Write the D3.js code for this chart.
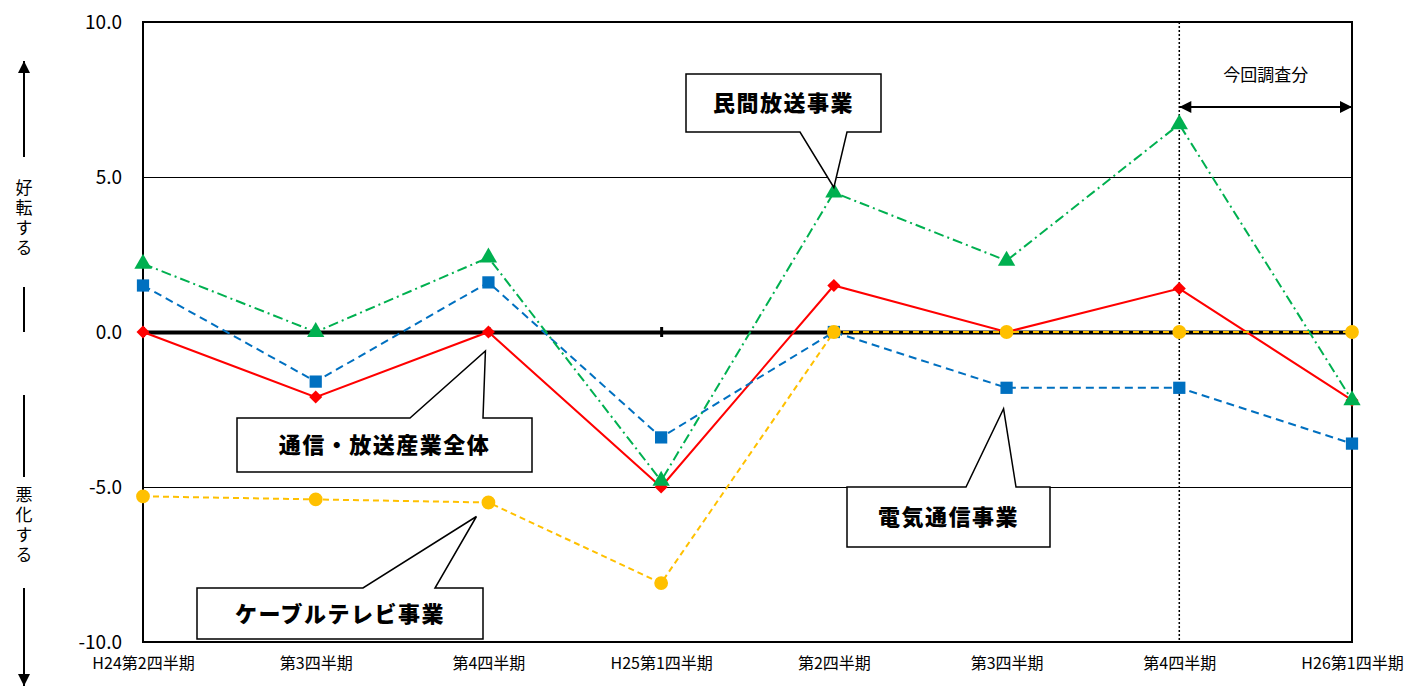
<!DOCTYPE html>
<html>
<head>
<meta charset="utf-8">
<script src="https://cdn.jsdelivr.net/npm/d3@7"></script>
<style>
  body { margin: 0; background: #fff; }
  svg { display: block; }
  text { font-family: "Noto Sans CJK JP", "Noto Sans", sans-serif; }
</style>
</head>
<body>
<div id="chart"></div>
<script>
// quarters
var categories = ["H24第2四半期", "第3四半期", "第4四半期", "H25第1四半期",
                  "第2四半期 ", "第3四半期 ", "第4四半期 ", "H26第1四半期"];
var yTicks = [-10, -5, 0, 5, 10];

// 通信・放送産業全体
var totalValues = [0, -2.1, 0, -5.0, 1.5, 0, 1.4, -2.2];
// 電気通信事業
var telecomValues = [1.5, -1.6, 1.6, -3.4, 0, -1.8, -1.8, -3.6];
// 民間放送事業
var broadcastValues = [2.2, 0, 2.4, -4.8, 4.5, 2.3, 6.7, -2.2];
// ケーブルテレビ事業
var cableValues = [-5.3, -5.4, -5.5, -8.1, 0, 0, 0, 0];

var W = 1413, H = 686;
var pLeft = 143, pRight = 1352, pTop = 22, pBottom = 642;

var svg = d3.select("#chart").append("svg")
    .attr("width", W).attr("height", H);

var x = d3.scalePoint().domain(categories).range([pLeft, pRight]).padding(0);
var y = d3.scaleLinear().domain([-10, 10]).range([pBottom, pTop]);

// gridlines at +-5
svg.append("g").selectAll("line")
    .data(yTicks.filter(function(d){ return d != 0 && Math.abs(d) != 10; }))
    .enter().append("line")
    .attr("x1", pLeft).attr("x2", pRight)
    .attr("y1", function(d){ return y(d); })
    .attr("y2", function(d){ return y(d); })
    .attr("stroke", "#000").attr("stroke-width", 1)
    .attr("shape-rendering", "crispEdges");

// plot border
svg.append("rect")
    .attr("x", pLeft).attr("y", pTop)
    .attr("width", pRight - pLeft).attr("height", pBottom - pTop)
    .attr("fill", "none").attr("stroke", "#000").attr("stroke-width", 2)
    .attr("shape-rendering", "crispEdges");

// y axis labels
var yAxis = d3.axisLeft(y).tickValues(yTicks)
    .tickFormat(function(d){ return d3.format(".1f")(d).replace("−", "-"); })
    .tickSize(0).tickPadding(21);
var yg = svg.append("g").attr("transform", "translate(" + pLeft + ",0)").call(yAxis);
yg.select(".domain").remove();
yg.selectAll("text").attr("font-family", "Liberation Sans, Arial, sans-serif")
    .attr("font-size", 19).attr("fill", "#000");

// x labels at the bottom
var xAxis = d3.axisBottom(x).tickSize(0).tickPadding(16);
var xg = svg.append("g").attr("transform", "translate(0," + pBottom + ")").call(xAxis);
xg.select(".domain").remove();
xg.selectAll("text").attr("font-size", 16).attr("fill", "#000")
    .attr("font-family", "Noto Sans CJK JP");

// zero axis (category axis) thick
var zeroAxis = d3.axisBottom(x).tickSize(5).tickSizeOuter(0).tickFormat("");
var zg = svg.append("g").attr("transform", "translate(0," + y(0) + ")").call(zeroAxis);
zg.select(".domain").attr("stroke", "#000").attr("stroke-width", 4);
zg.selectAll(".tick line").attr("stroke", "#000").attr("stroke-width", 3)
    .attr("y1", -5).attr("y2", 5);

// dotted separator for current survey
var sepX = x(categories[6]);
svg.append("line")
    .attr("x1", sepX).attr("x2", sepX).attr("y1", pTop).attr("y2", pBottom)
    .attr("stroke", "#000").attr("stroke-width", 1.5).attr("stroke-dasharray", "2,2");

// double arrow 今回調査分
var defs = svg.append("defs");
defs.append("marker").attr("id", "ah").attr("viewBox", "0 0 10 10")
    .attr("refX", 10).attr("refY", 5).attr("markerWidth", 14).attr("markerHeight", 12)
    .attr("markerUnits", "userSpaceOnUse").attr("orient", "auto-start-reverse")
    .append("path").attr("d", "M0,0 L10,5 L0,10 Z").attr("fill", "#000");
svg.append("line")
    .attr("x1", sepX).attr("x2", x(categories[7])).attr("y1", 107).attr("y2", 107)
    .attr("stroke", "#000").attr("stroke-width", 2)
    .attr("marker-start", "url(#ah)").attr("marker-end", "url(#ah)");
svg.append("text").attr("x", (sepX + x(categories[7])) / 2).attr("y", 81)
    .attr("text-anchor", "middle").attr("font-size", 17).text("今回調査分");

// series
var series = [
  {name: "通信・放送産業全体", values: totalValues, color: "#FF0000", dash: null, symbol: d3.symbolSquare, size: 85, rotate: 45},
  {name: "電気通信事業", values: telecomValues, color: "#0070C0", dash: "8,5", symbol: d3.symbolSquare, size: 150, rotate: 0},
  {name: "民間放送事業", values: broadcastValues, color: "#00B050", dash: "10,4,2,4", symbol: d3.symbolTriangle, size: 130, rotate: 0},
  {name: "ケーブルテレビ事業", values: cableValues, color: "#FFC000", dash: "6,4", symbol: d3.symbolCircle, size: 150, rotate: 0}
];

var line = d3.line()
    .x(function(d, i){ return x(categories[i]); })
    .y(function(d){ return y(d); });

series.forEach(function(s){
  var g = svg.append("g");
  g.append("path").datum(s.values)
    .attr("d", line).attr("fill", "none")
    .attr("stroke", s.color).attr("stroke-width", 2)
    .attr("stroke-dasharray", s.dash);
  g.selectAll(".pt").data(s.values).enter().append("path")
    .attr("class", "pt")
    .attr("d", d3.symbol().type(s.symbol).size(s.size))
    .attr("transform", function(d, i){
      return "translate(" + x(categories[i]) + "," + y(d) + ") rotate(" + s.rotate + ")";
    })
    .attr("fill", s.color);
});

// callouts (box, pointer tip offset from the data point)
var callouts = [
  {text: "民間放送事業", box: [686, 74, 881, 132], base: [800, 847], series: 2, idx: 4, dx: 0, dy: -5},
  {text: "通信・放送産業全体", box: [237, 418, 532, 472], base: [410, 483], series: 0, idx: 2, dx: -3, dy: 19},
  {text: "電気通信事業", box: [847, 487, 1050, 547], base: [966, 1016], series: 1, idx: 5, dx: -3, dy: 21},
  {text: "ケーブルテレビ事業", box: [197, 588, 483, 639], base: [363, 435], series: 3, idx: 2, dx: -12, dy: 14}
];

callouts.forEach(function(c){
  var s = series[c.series];
  var tx = x(categories[c.idx]) + c.dx, ty = y(s.values[c.idx]) + c.dy;
  var b = c.box, p;
  if (ty < b[1]) {
    p = [[b[0], b[1]], [c.base[0], b[1]], [tx, ty], [c.base[1], b[1]], [b[2], b[1]], [b[2], b[3]], [b[0], b[3]]];
  } else {
    p = [[b[0], b[1]], [b[2], b[1]], [b[2], b[3]], [c.base[1], b[3]], [tx, ty], [c.base[0], b[3]], [b[0], b[3]]];
  }
  svg.append("path").attr("d", "M" + p.join("L") + "Z")
    .attr("fill", "#fff").attr("stroke", "#000").attr("stroke-width", 1.5);
  svg.append("text")
    .attr("x", (b[0] + b[2]) / 2).attr("y", (b[1] + b[3]) / 2 + 8)
    .attr("text-anchor", "middle").attr("font-size", 22).attr("font-weight", 900)
    .attr("letter-spacing", 1.5).text(c.text);
});

// left side direction labels (vertical writing)
var ax = 24;
function vtext(str, y0) {
  svg.append("text").attr("x", ax).attr("y", y0)
    .style("writing-mode", "vertical-rl")
    .attr("font-size", 17).attr("letter-spacing", 3).text(str);
}
defs.append("marker").attr("id", "ah2").attr("viewBox", "0 0 10 10")
    .attr("refX", 10).attr("refY", 5).attr("markerWidth", 16).attr("markerHeight", 12)
    .attr("markerUnits", "userSpaceOnUse").attr("orient", "auto")
    .append("path").attr("d", "M0,0 L10,5 L0,10 Z").attr("fill", "#000");
svg.append("line").attr("x1", ax).attr("x2", ax).attr("y1", 157).attr("y2", 61)
    .attr("stroke", "#000").attr("stroke-width", 2).attr("marker-end", "url(#ah2)");
vtext("好転する", 179);
svg.append("line").attr("x1", ax).attr("x2", ax).attr("y1", 287).attr("y2", 332)
    .attr("stroke", "#000").attr("stroke-width", 2);
svg.append("line").attr("x1", ax).attr("x2", ax).attr("y1", 395).attr("y2", 477)
    .attr("stroke", "#000").attr("stroke-width", 2);
vtext("悪化する", 486);
svg.append("line").attr("x1", ax).attr("x2", ax).attr("y1", 588).attr("y2", 686)
    .attr("stroke", "#000").attr("stroke-width", 2).attr("marker-end", "url(#ah2)");
</script>
</body>
</html>
